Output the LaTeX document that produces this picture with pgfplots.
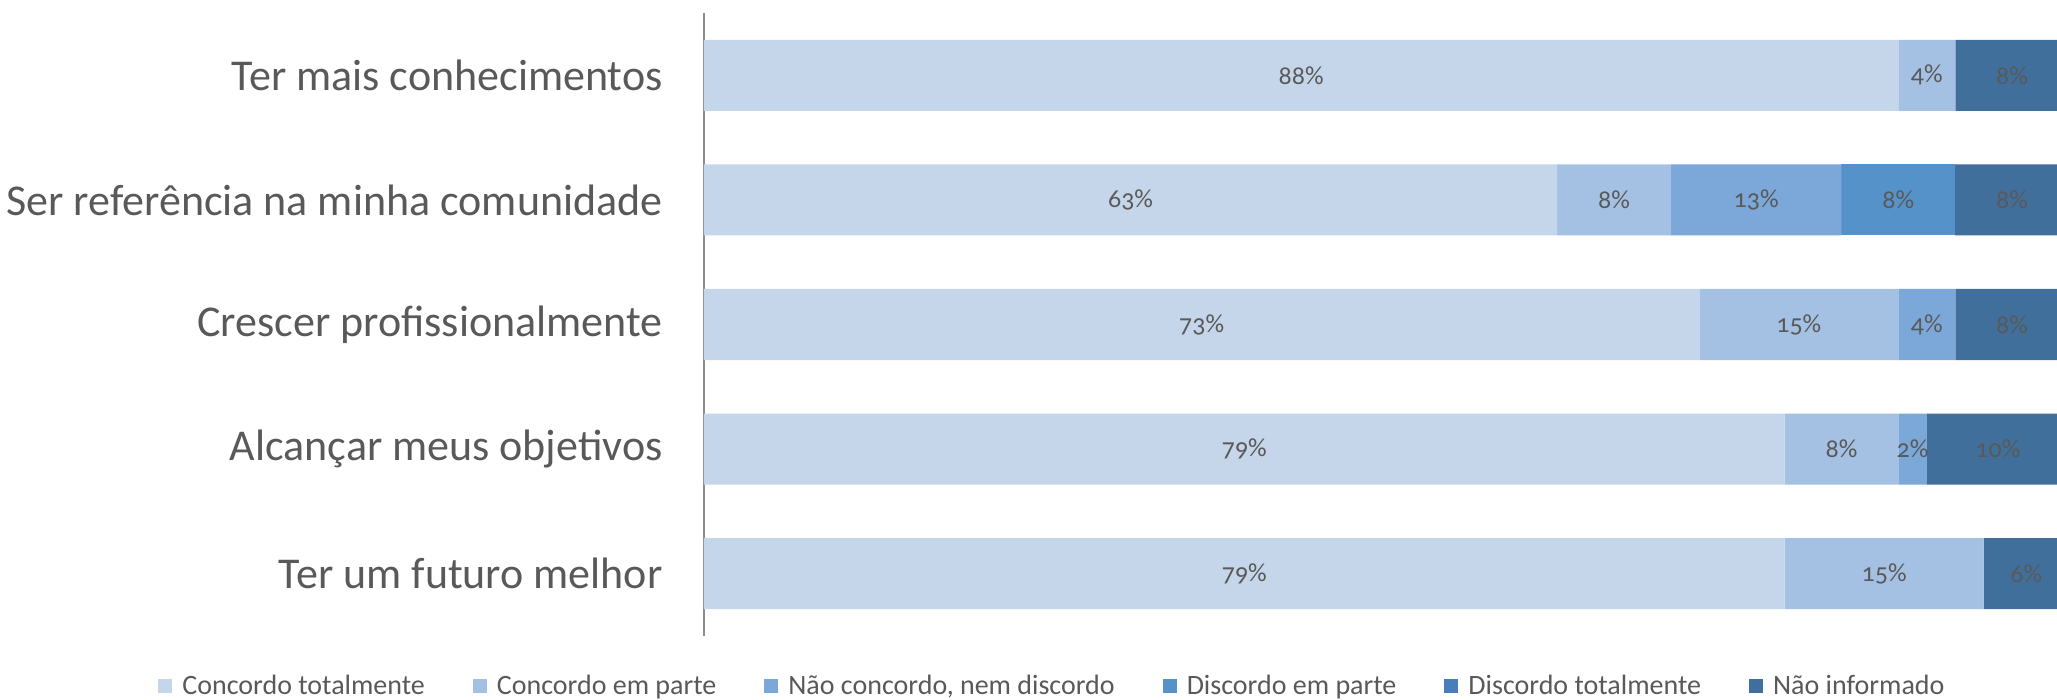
\documentclass[border=0pt]{standalone}
\usepackage{pgfplots}
\pgfplotsset{compat=1.18}
\usepackage{pgfplotstable}
\usepackage{fontspec}
\setmainfont{Carlito}
\newfontfamily\numfont[Numbers=OldStyle]{Carlito}

\definecolor{c1}{HTML}{C5D5EA}
\definecolor{c2}{HTML}{A4C1E4}
\definecolor{c3}{HTML}{7BA8D8}
\definecolor{c4}{HTML}{5592CA}
\definecolor{c5}{HTML}{4A7EBB}
\definecolor{c6}{HTML}{416F9B}
\definecolor{txt}{HTML}{595959}

% shares in % (48 answers), one row per statement, top to bottom
\pgfplotstableread{
idx ct      cp      nn      dp     dt ni
0   87.5    4.1667  0       0      0  8.3333
1   62.5    8.3333  12.5    8.3333 0  8.3333
2   72.9167 14.5833 4.1667  0      0  8.3333
3   79.1667 8.3333  2.0833  0      0  10.4167
4   79.1667 14.5833 0       0      0  6.25
}\resp

\begin{document}
\begin{tikzpicture}
\begin{axis}[
  scale only axis,
  width=682.5pt, height=311.5pt,
  xbar stacked,
  bar width=0.57,
  xmin=0, xmax=100,
  ymin=-0.5, ymax=4.5,
  y dir=reverse,
  axis x line=none,
  axis y line=left,
  y axis line style={-, color=black!45, line width=0.8pt},
  ytick={0,1,2,3,4},
  yticklabels={Ter mais conhecimentos, Ser referência na minha comunidade, Crescer profissionalmente, Alcançar meus objetivos, Ter um futuro melhor},
  major tick length=0pt,
  yticklabel style={font=\fontsize{22}{26}\selectfont, text=txt, inner sep=0pt, xshift=-20.5pt},
  nodes near coords={\pgfmathfloatifflags{\pgfplotspointmeta}{0}{}{\pgfmathprintnumber[fixed,precision=0,assume math mode=true]{\pgfplotspointmeta}\%}},
  every node near coord/.append style={font=\numfont\fontsize{13}{15}\selectfont, text=txt},
  legend columns=6,
  legend style={at={(0.256,-0.080)}, anchor=center, draw=none, fill=none,
    font=\fontsize{14}{16}\selectfont, text=txt,
    /tikz/every odd column/.append style={column sep=3pt},
    /tikz/every even column/.append style={column sep=22pt}},
  legend image code/.code={\fill[#1] (0pt,-3.5pt) rectangle (7pt,3.5pt);},
]
\addplot[fill=c1, draw=none] table[x=ct, y=idx] {\resp};
\addlegendentry{Concordo totalmente}
\addplot[fill=c2, draw=none] table[x=cp, y=idx] {\resp};
\addlegendentry{Concordo em parte}
\addplot[fill=c3, draw=none] table[x=nn, y=idx] {\resp};
\addlegendentry{Não concordo, nem discordo}
\addplot[fill=c4, draw=none] table[x=dp, y=idx] {\resp};
\addlegendentry{Discordo em parte}
\addplot[fill=c5, draw=none] table[x=dt, y=idx] {\resp};
\addlegendentry{Discordo totalmente}
\addplot[fill=c6, draw=none] table[x=ni, y=idx] {\resp};
\addlegendentry{Não informado}
\end{axis}
\pgfresetboundingbox
\path ([xshift=-352pt,yshift=-32pt]current axis.south west) rectangle ([xshift=-6pt,yshift=6.5pt]current axis.north east);
\end{tikzpicture}
\end{document}
